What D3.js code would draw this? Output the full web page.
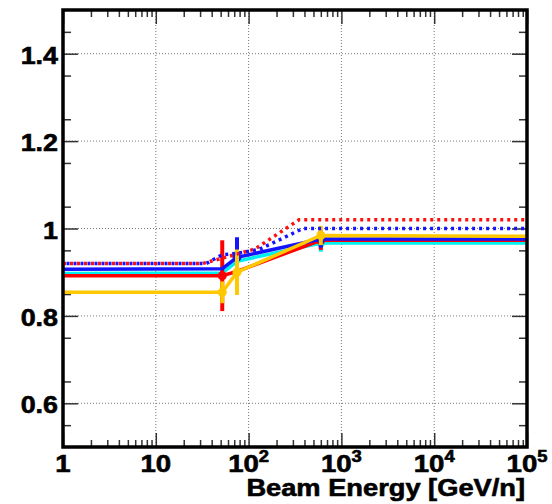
<!DOCTYPE html>
<html>
<head>
<meta charset="utf-8">
<script src="https://cdn.jsdelivr.net/npm/d3@7"></script>
<style>
  body { margin: 0; background: #fff; }
  text { font-family: "Liberation Sans", Arial, sans-serif; font-weight: bold; fill: #000; stroke: #000; stroke-width: 0.6; }
</style>
</head>
<body>
<div id="chart"></div>
<script>
// energies where the solid curves have points (GeV/n)
const energy = [1, 52, 75, 600, 100000];

const cyanVals   = [0.897, 0.898, 0.925, 0.967, 0.967];
const redVals    = [0.892, 0.892, 0.902, 0.973, 0.973];
const blueVals   = [0.907, 0.908, 0.934, 0.976, 0.976];
const yellowVals = [0.854, 0.854, 0.900, 0.984, 0.982];

const cyanErr   = [0, 0, 0, 0.02, 0];
const redErr    = [0, 0.081, 0, 0.022, 0];
const blueErr   = [0, 0, 0.046, 0.02, 0];
const yellowErr = [0, 0.025, 0.052, 0.022, 0];

// dotted curves
const redDotE    = [1, 32, 52, 117, 350, 100000];
const redDotVals = [0.92, 0.92, 0.932, 0.953, 1.02, 1.02];
const blueDotE    = [1, 35, 52, 75, 130, 385, 100000];
const blueDotVals = [0.92, 0.92, 0.94, 0.943, 0.952, 1.0, 1.0];

const xTicks = [1, 10, 100, 1000, 10000, 100000];
const xTickBase = ['1', '10', '10', '10', '10', '10'];
const xTickExp = ['', '', '2', '3', '4', '5'];
const yTicks = [0.6, 0.8, 1, 1.2, 1.4];
const yTickLabels = ['0.6', '0.8', '1', '1.2', '1.4'];

const width = 552;
const height = 504;
const margin = {top: 10, right: 25, bottom: 57, left: 63};

const svg = d3.select('#chart')
  .append('svg')
  .attr('width', width)
  .attr('height', height);

const x = d3.scaleLog()
  .domain([1, 100000])
  .range([margin.left, width - margin.right]);

const y = d3.scaleLinear()
  .domain([0.5, 1.5])
  .range([height - margin.bottom, margin.top]);

const x0 = margin.left, x1 = width - margin.right;
const y0 = height - margin.bottom, y1 = margin.top;

// minor ticks
const xMinor = [];
for (let d = 1; d < 100000; d *= 10) for (let k = 2; k <= 9; k++) xMinor.push(d * k);
const yMinor = d3.range(0.55, 1.5, 0.1).map(v => +v.toFixed(2));

// grid
svg.append('g')
  .selectAll('line')
  .data(xTicks.slice(1, -1))
  .join('line')
  .attr('x1', d => x(d)).attr('x2', d => x(d))
  .attr('y1', y1).attr('y2', y0)
  .attr('stroke', '#777').attr('stroke-width', 1).attr('stroke-dasharray', '1,2');

svg.append('g')
  .selectAll('line')
  .data(yTicks)
  .join('line')
  .attr('x1', x0).attr('x2', x1)
  .attr('y1', d => y(d)).attr('y2', d => y(d))
  .attr('stroke', '#777').attr('stroke-width', 1).attr('stroke-dasharray', '1,2');

// ticks, pointing inward on all four sides
function ticks(g, axis) {
  g.call(axis.tickFormat(''))
    .call(g => g.select('.domain').remove())
    .call(g => g.selectAll('line').attr('stroke', '#333').attr('stroke-width', 1.5));
}
svg.append('g').attr('transform', `translate(0,${y0})`).call(ticks, d3.axisBottom(x).tickValues(xTicks).tickSize(-14));
svg.append('g').attr('transform', `translate(0,${y0})`).call(ticks, d3.axisBottom(x).tickValues(xMinor).tickSize(-7));
svg.append('g').attr('transform', `translate(0,${y1})`).call(ticks, d3.axisTop(x).tickValues(xTicks).tickSize(-14));
svg.append('g').attr('transform', `translate(0,${y1})`).call(ticks, d3.axisTop(x).tickValues(xMinor).tickSize(-7));
svg.append('g').attr('transform', `translate(${x0},0)`).call(ticks, d3.axisLeft(y).tickValues(yTicks).tickSize(-15));
svg.append('g').attr('transform', `translate(${x0},0)`).call(ticks, d3.axisLeft(y).tickValues(yMinor).tickSize(-8));
svg.append('g').attr('transform', `translate(${x1},0)`).call(ticks, d3.axisRight(y).tickValues(yTicks).tickSize(-15));
svg.append('g').attr('transform', `translate(${x1},0)`).call(ticks, d3.axisRight(y).tickValues(yMinor).tickSize(-8));

// curves
svg.append('clipPath').attr('id', 'clip')
  .append('rect').attr('x', x0).attr('y', y1).attr('width', x1 - x0).attr('height', y0 - y1);

const plot = svg.append('g').attr('clip-path', 'url(#clip)');
const line = d3.line().x(d => x(d[0])).y(d => y(d[1]));

const solid = [
  {vals: cyanVals, err: cyanErr, color: '#00f0f0'},
  {vals: redVals, err: redErr, color: '#ff0000'},
  {vals: blueVals, err: blueErr, color: '#1414ff'},
  {vals: yellowVals, err: yellowErr, color: '#ffc800'}
];

solid.forEach(s => {
  const pts = energy.map((e, i) => [e, s.vals[i], s.err[i]]);
  plot.append('path')
    .datum(pts)
    .attr('d', line)
    .attr('fill', 'none')
    .attr('stroke', s.color)
    .attr('stroke-width', 3.5);
  plot.append('g')
    .selectAll('line')
    .data(pts.filter(d => d[2] > 0))
    .join('line')
    .attr('x1', d => x(d[0])).attr('x2', d => x(d[0]))
    .attr('y1', d => y(d[1] - d[2])).attr('y2', d => y(d[1] + d[2]))
    .attr('stroke', s.color)
    .attr('stroke-width', 4);
  plot.append('g')
    .selectAll('circle')
    .data(pts.filter(d => d[2] > 0))
    .join('circle')
    .attr('cx', d => x(d[0])).attr('cy', d => y(d[1]))
    .attr('r', 4.5)
    .attr('fill', s.color);
});

const dotted = [
  {e: redDotE, vals: redDotVals, color: '#ff1010', offset: 0},
  {e: blueDotE, vals: blueDotVals, color: '#1414ff', offset: 3.5}
];

dotted.forEach(s => {
  plot.append('path')
    .datum(s.e.map((e, i) => [e, s.vals[i]]))
    .attr('d', line)
    .attr('fill', 'none')
    .attr('stroke', s.color)
    .attr('stroke-width', 3.5)
    .attr('stroke-dasharray', '3,4')
    .attr('stroke-dashoffset', s.offset);
});

// frame
svg.append('rect')
  .attr('x', x0).attr('y', y1)
  .attr('width', x1 - x0).attr('height', y0 - y1)
  .attr('fill', 'none')
  .attr('stroke', '#000')
  .attr('stroke-width', 3.5);

// tick labels
svg.append('g')
  .selectAll('text')
  .data(yTicks)
  .join('text')
  .attr('transform', d => `translate(58,${y(d) + 10}) scale(1.12,1)`)
  .attr('text-anchor', 'end')
  .attr('font-size', 24)
  .text((d, i) => yTickLabels[i]);

const xl = svg.append('g')
  .selectAll('text')
  .data(xTicks)
  .join('text')
  .attr('transform', d => `translate(${x(d)},472) scale(1.15,1)`)
  .attr('text-anchor', 'middle')
  .attr('font-size', 24);
xl.append('tspan').text((d, i) => xTickBase[i]);
xl.append('tspan')
  .attr('font-size', 16)
  .attr('dy', -10)
  .text((d, i) => xTickExp[i]);

svg.append('text')
  .attr('transform', 'translate(525,496) scale(1.16,1)')
  .attr('text-anchor', 'end')
  .attr('font-size', 23.5)
  .text('Beam Energy [GeV/n]');
</script>
</body>
</html>
